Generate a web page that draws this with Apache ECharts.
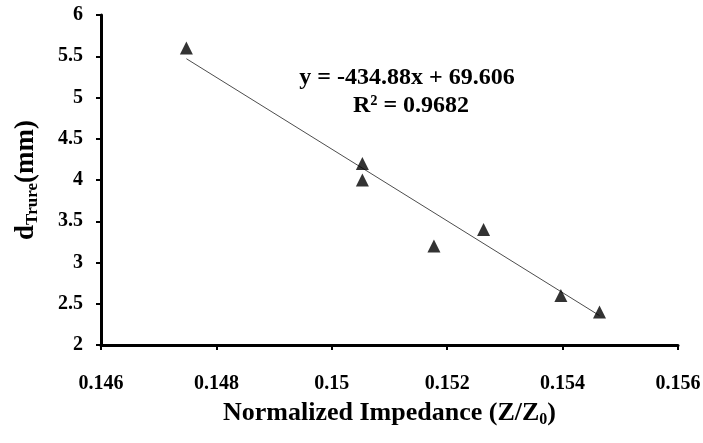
<!DOCTYPE html>
<html lang="en">
<head>
  <meta charset="UTF-8">
  <title>Normalized Impedance vs dTrure</title>
  <style>
    html, body { margin: 0; padding: 0; background: #fff; }
  </style>
</head>
<body>
  <div id="main" style="width:703px;height:443px"></div>
  <script src="https://cdn.jsdelivr.net/npm/echarts@6/dist/echarts.min.js"></script>
  <script>
    // measured points
    var impedance = [0.14748, 0.15053, 0.15053, 0.15177, 0.15263, 0.15397, 0.15464]
    var dTrure = [5.6, 4.2, 4.0, 3.2, 3.4, 2.6, 2.4]

    // linear trendline from the chart
    var slope = -434.88
    var intercept = 69.606
    var rSquared = 0.9682

    var xTicks = [0.146, 0.148, 0.15, 0.152, 0.154, 0.156]
    var yTicks = [2, 2.5, 3, 3.5, 4, 4.5, 5, 5.5, 6]

    var points = impedance.map(function (x, i) { return [x, dTrure[i]] })
    var xMin = Math.min.apply(null, impedance)
    var xMax = Math.max.apply(null, impedance)
    var trend = [[xMin, slope * xMin + intercept], [xMax, slope * xMax + intercept]]

    var font = 'Liberation Serif'
    var myChart = echarts.init(document.getElementById('main'))

    var option = {
      backgroundColor: '#fff',
      animation: false,
      grid: { left: 101, right: 25, top: 15, bottom: 98, containLabel: false, outerBoundsMode: 'none' },
      xAxis: {
        type: 'value',
        min: xTicks[0],
        max: xTicks[xTicks.length - 1],
        interval: 0.002,
        splitLine: { show: false },
        axisLine: { lineStyle: { color: '#000', width: 3 } },
        axisTick: { show: true, length: 5, lineStyle: { color: '#000', width: 2 } },
        axisLabel: {
          margin: 29,
          color: '#000',
          fontFamily: font,
          fontWeight: 'bold',
          fontSize: 20,
          formatter: function (v) { return String(+v.toFixed(3)) }
        },
        name: 'Normalized Impedance (Z/Z{sub|0})',
        nameLocation: 'middle',
        nameGap: 54,
        nameTextStyle: {
          color: '#000',
          fontFamily: font,
          fontWeight: 'bold',
          fontSize: 26,
          rich: {
            sub: { fontFamily: font, fontWeight: 'bold', fontSize: 16, color: '#000', padding: [13, 0, 0, 0] }
          }
        }
      },
      yAxis: {
        type: 'value',
        min: yTicks[0],
        max: yTicks[yTicks.length - 1],
        interval: 0.5,
        splitLine: { show: false },
        axisLine: { lineStyle: { color: '#000', width: 3 } },
        axisTick: { show: true, length: 5, lineStyle: { color: '#000', width: 2 } },
        axisLabel: {
          margin: 18,
          color: '#000',
          fontFamily: font,
          fontWeight: 'bold',
          fontSize: 20
        },
        name: 'd{sub|Trure}(mm)',
        nameLocation: 'middle',
        nameRotate: 90,
        nameGap: 60,
        nameTextStyle: {
          color: '#000',
          fontFamily: font,
          fontWeight: 'bold',
          fontSize: 27,
          rich: {
            sub: { fontFamily: font, fontWeight: 'bold', fontSize: 17, color: '#000', padding: [13, 0, 0, 0] }
          }
        }
      },
      graphic: [
        {
          type: 'text',
          x: 407,
          y: 78,
          style: {
            text: 'y = -434.88x + 69.606',
            font: 'bold 24px "Liberation Serif"',
            fill: '#000',
            align: 'center',
            verticalAlign: 'middle'
          }
        },
        {
          type: 'text',
          x: 411,
          y: 106,
          style: {
            text: 'R² = ' + rSquared,
            font: 'bold 24px "Liberation Serif"',
            fill: '#000',
            align: 'center',
            verticalAlign: 'middle'
          }
        }
      ],
      series: [
        {
          name: 'trend',
          type: 'line',
          data: trend,
          symbol: 'none',
          lineStyle: { color: '#4d4d4d', width: 1 },
          z: 1
        },
        {
          name: 'dTrure',
          type: 'scatter',
          data: points,
          symbol: 'triangle',
          symbolSize: 13,
          itemStyle: { color: '#000' },
          z: 2
        }
      ]
    }

    myChart.setOption(option)
  </script>
</body>
</html>
